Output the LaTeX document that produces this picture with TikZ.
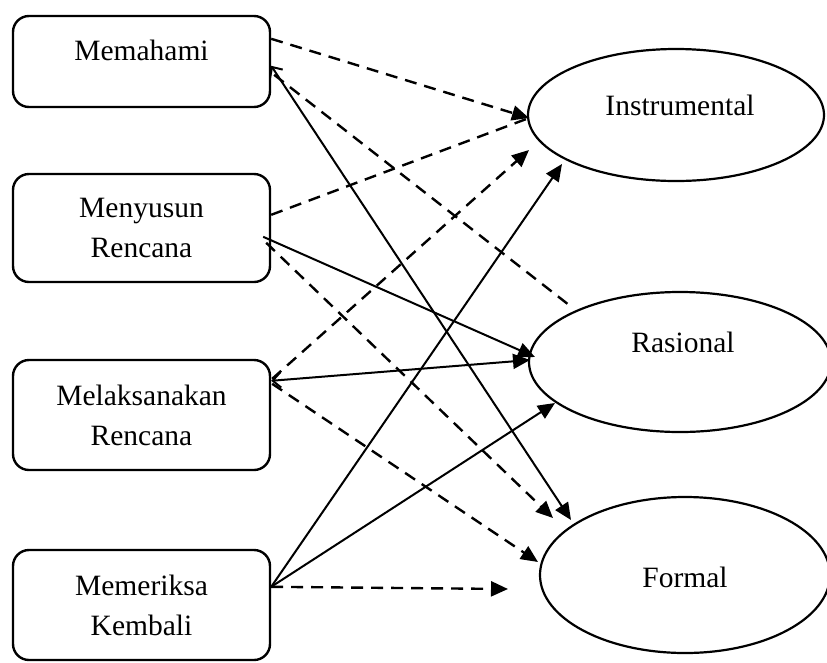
\documentclass[tikz,border=0pt]{standalone}
\usepackage{fontspec}
\setmainfont{Liberation Serif}
\usetikzlibrary{shapes.geometric,arrows.meta,calc}
\tikzset{
  tri/.tip={Triangle[length=17pt,width=15pt]},
  barb/.tip={Straight Barb[length=8pt,width=15pt,line width=2pt]}
}
\begin{document}
\begin{tikzpicture}[x=1pt,y=-1pt,
  box/.style={draw,line width=2.4pt,rounded corners=16pt,minimum width=257pt,inner sep=0pt},
  oval/.style={draw,ellipse,line width=2.2pt,inner sep=0pt},
  lbl/.style={font=\fontsize{29.5}{40}\selectfont,align=center,inner sep=0pt},
  dashline/.style={line width=2.4pt,dash pattern=on 12pt off 8pt},
  solidline/.style={line width=2pt}
]
\useasboundingbox (0,0) rectangle (827,662);

% boxes
\node[box,minimum height=91pt]  (mem) at (141.5,61.5) {};
\node[box,minimum height=108pt] (mys) at (141.5,228) {};
\node[box,minimum height=110pt] (mls) at (141.5,415) {};
\node[box,minimum height=110pt] (mrk) at (141.5,605) {};
\node[lbl] (memt) at (141.5,50) {Memahami};
\node[lbl] (myst) at (141.5,228) {Menyusun\\Rencana};
\node[lbl] (mlst) at (141.5,415) {Melaksanakan\\Rencana};
\node[lbl] (mrkt) at (141.5,605) {Memeriksa\\Kembali};

% ellipses
\node[oval,minimum width=296pt,minimum height=132pt] (ins) at (676,115) {};
\node[oval,minimum width=302pt,minimum height=140pt] (ras) at (680,362) {};
\node[oval,minimum width=290pt,minimum height=156pt] (frm) at (685,575) {};
\node[lbl] (inst) at (680,105) {Instrumental};
\node[lbl] (rast) at (683,342) {Rasional};
\node[lbl] (frmt) at (685,577) {Formal};

\coordinate (free) at ($(frm.center)+(-177,14)$);

% Memahami
\draw[dashline,-tri] ([yshift=-24pt]mem.north east) -- ($(ins.center)+(-147,3)$);
\draw[dashline] ([shift={(3pt,-60pt)}]mem.north east) -- ($(ras.center)+(-111,-57)$);
\draw[solidline,barb-tri] ([yshift=-51pt]mem.north east) -- ($(frm.center)+(-114,-55)$);

% Menyusun Rencana
\draw[dashline] ([yshift=-42pt]mys.north east) -- ($(ins.center)+(-147,3)$);
\draw[solidline,-tri] ([shift={(-8pt,-64pt)}]mys.north east) -- ($(ras.center)+(-145,-5)$);
\draw[dashline,-tri] ([shift={(-5pt,-70pt)}]mys.north east) -- ($(frm.center)+(-132,-57)$);

% Melaksanakan Rencana
\draw[dashline,-tri] ([shift={(1pt,-20pt)}]mls.north east) -- ($(ins.center)+(-147,35)$);
\draw[solidline,barb-tri] ([yshift=-22pt]mls.north east) -- ($(ras.center)+(-150,-2)$);
\draw[dashline,-tri] ([shift={(1pt,-25pt)}]mls.north east) -- ($(frm.center)+(-147,-13)$);

% Memeriksa Kembali
\draw[solidline,-tri] ([yshift=-38pt]mrk.north east) -- ($(ins.center)+(-114,49)$);
\draw[solidline,-tri] ([yshift=-38pt]mrk.north east) -- ($(ras.center)+(-125,41)$);
\draw[dashline,-tri] ([yshift=-38pt]mrk.north east) -- (free);
\end{tikzpicture}
\end{document}
